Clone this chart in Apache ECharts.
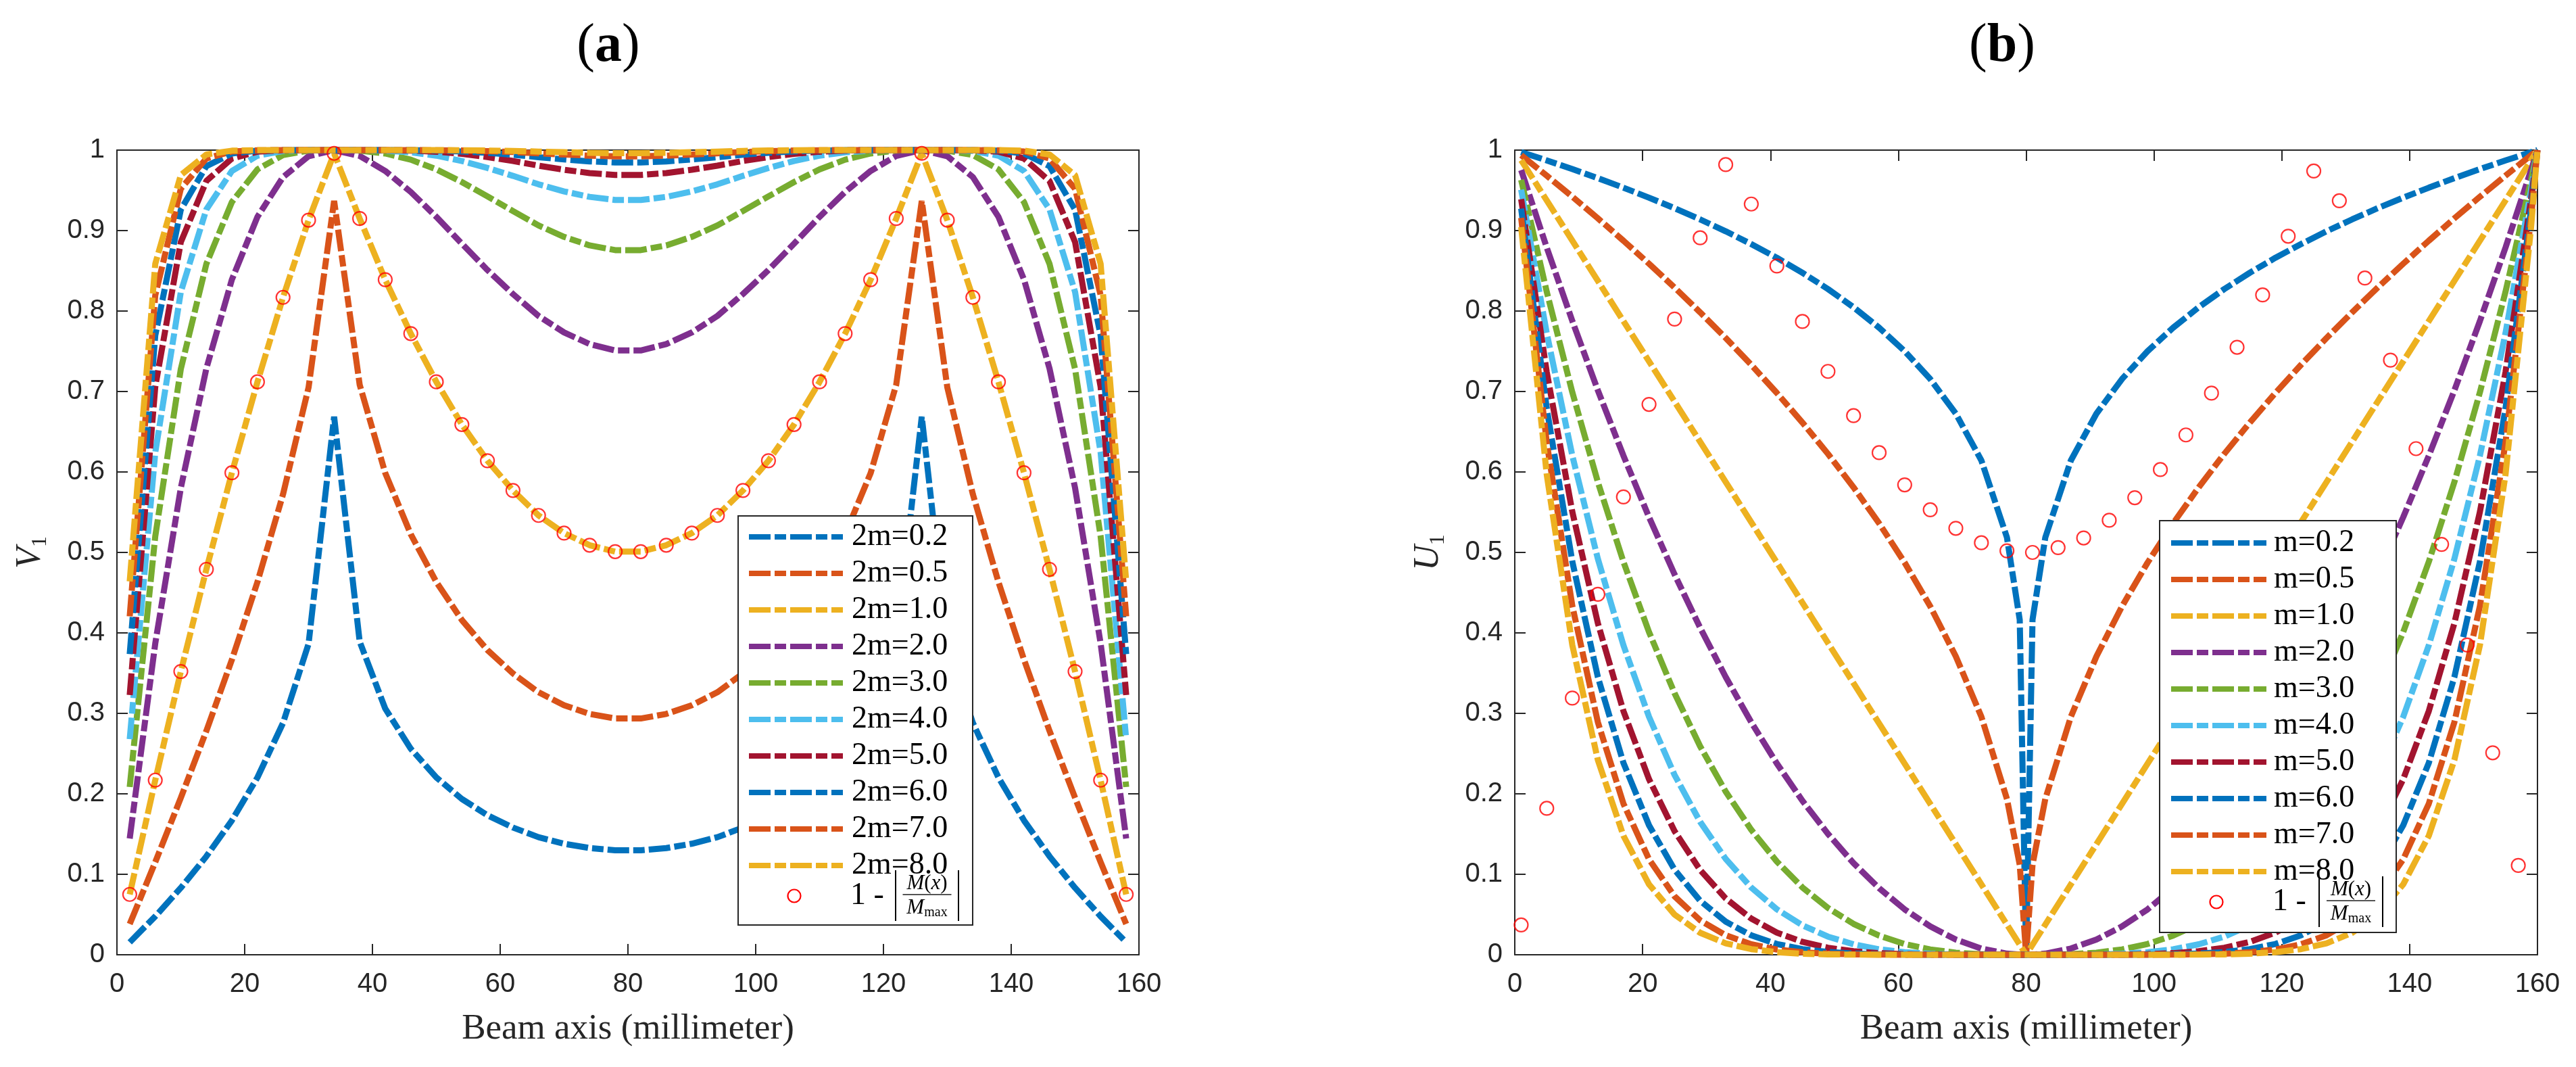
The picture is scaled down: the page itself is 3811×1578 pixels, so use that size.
<!DOCTYPE html>
<html>
<head>
<meta charset="utf-8">
<title>V1 and U1 along the beam axis</title>
<script src="https://cdn.jsdelivr.net/npm/echarts@6/dist/echarts.min.js"></script>
<style>
  html, body { margin: 0; padding: 0; background: #fff; }
  #chart { width: 3811px; height: 1578px; }
</style>
</head>
<body>
<div id="chart"></div>
<script>
/*
* data -- panel (a), V1 for 2m = 0.2 ... 8.0
* */
var xA = [2, 6, 10, 14, 18, 22, 26, 30, 34, 38, 42, 46, 50, 54, 58, 62, 66, 70, 74, 78,
    82, 86, 90, 94, 98, 102, 106, 110, 114, 118, 122, 126, 130, 134, 138, 142, 146, 150, 154, 158];
var namesA = ['2m=0.2', '2m=0.5', '2m=1.0', '2m=2.0', '2m=3.0', '2m=4.0', '2m=5.0', '2m=6.0', '2m=7.0', '2m=8.0'];

var vA02 = [0.0155, 0.0477, 0.0831, 0.1223, 0.1670, 0.2204, 0.2880, 0.3864, 0.6686, 0.3892, 0.3060, 0.2560, 0.2204, 0.1936, 0.1734, 0.1581, 0.1461, 0.1380, 0.1326, 0.1298,
    0.1298, 0.1326, 0.1380, 0.1461, 0.1581, 0.1734, 0.1936, 0.2204, 0.2560, 0.3060, 0.3892, 0.6686, 0.3864, 0.2880, 0.2204, 0.1670, 0.1223, 0.0831, 0.0477, 0.0155];
var vA05 = [0.0382, 0.1151, 0.1950, 0.2782, 0.3668, 0.4633, 0.5722, 0.7050, 0.9368, 0.7085, 0.5988, 0.5225, 0.4633, 0.4160, 0.3787, 0.3496, 0.3262, 0.3101, 0.2993, 0.2936,
    0.2936, 0.2993, 0.3101, 0.3262, 0.3496, 0.3787, 0.4160, 0.4633, 0.5225, 0.5988, 0.7085, 0.9368, 0.7050, 0.5722, 0.4633, 0.3668, 0.2782, 0.1950, 0.1151, 0.0382];
var vA10 = [0.075, 0.217, 0.352, 0.479, 0.599, 0.712, 0.817, 0.913, 0.996, 0.915, 0.839, 0.772, 0.712, 0.659, 0.614, 0.577, 0.546, 0.524, 0.509, 0.501,
    0.501, 0.509, 0.524, 0.546, 0.577, 0.614, 0.659, 0.712, 0.772, 0.839, 0.915, 0.996, 0.913, 0.817, 0.712, 0.599, 0.479, 0.352, 0.217, 0.075];
var vA20 = [0.1444, 0.3869, 0.5801, 0.7286, 0.8392, 0.9171, 0.9665, 0.9924, 1.0000, 0.9928, 0.9741, 0.9480, 0.9171, 0.8837, 0.8510, 0.8211, 0.7939, 0.7734, 0.7589, 0.7510,
    0.7510, 0.7589, 0.7734, 0.7939, 0.8211, 0.8510, 0.8837, 0.9171, 0.9480, 0.9741, 0.9928, 1.0000, 0.9924, 0.9665, 0.9171, 0.8392, 0.7286, 0.5801, 0.3869, 0.1444];
var vA30 = [0.2085, 0.5200, 0.7279, 0.8586, 0.9355, 0.9761, 0.9939, 0.9993, 1.0000, 0.9994, 0.9958, 0.9881, 0.9761, 0.9603, 0.9425, 0.9243, 0.9064, 0.8922, 0.8816, 0.8757,
    0.8757, 0.8816, 0.8922, 0.9064, 0.9243, 0.9425, 0.9603, 0.9761, 0.9881, 0.9958, 0.9994, 1.0000, 0.9993, 0.9939, 0.9761, 0.9355, 0.8586, 0.7279, 0.5200, 0.2085];
var vA40 = [0.2679, 0.6241, 0.8237, 0.9263, 0.9741, 0.9931, 0.9989, 0.9999, 1.0000, 0.9999, 0.9993, 0.9973, 0.9931, 0.9865, 0.9778, 0.9680, 0.9575, 0.9487, 0.9419, 0.9380,
    0.9380, 0.9419, 0.9487, 0.9575, 0.9680, 0.9778, 0.9865, 0.9931, 0.9973, 0.9993, 0.9999, 1.0000, 0.9999, 0.9989, 0.9931, 0.9741, 0.9263, 0.8237, 0.6241, 0.2679];
var vA50 = [0.3228, 0.7057, 0.8857, 0.9616, 0.9896, 0.9980, 0.9998, 1.0000, 1.0000, 1.0000, 0.9999, 0.9994, 0.9980, 0.9954, 0.9914, 0.9865, 0.9807, 0.9756, 0.9715, 0.9691,
    0.9691, 0.9715, 0.9756, 0.9807, 0.9865, 0.9914, 0.9954, 0.9980, 0.9994, 0.9999, 1.0000, 1.0000, 1.0000, 0.9998, 0.9980, 0.9896, 0.9616, 0.8857, 0.7057, 0.3228];
var vA60 = [0.3736, 0.7696, 0.9260, 0.9800, 0.9958, 0.9994, 1.0000, 1.0000, 1.0000, 1.0000, 1.0000, 0.9999, 0.9994, 0.9984, 0.9967, 0.9943, 0.9912, 0.9884, 0.9860, 0.9846,
    0.9846, 0.9860, 0.9884, 0.9912, 0.9943, 0.9967, 0.9984, 0.9994, 0.9999, 1.0000, 1.0000, 1.0000, 1.0000, 1.0000, 0.9994, 0.9958, 0.9800, 0.9260, 0.7696, 0.3736];
var vA70 = [0.4206, 0.8196, 0.9520, 0.9896, 0.9983, 0.9998, 1.0000, 1.0000, 1.0000, 1.0000, 1.0000, 1.0000, 0.9998, 0.9995, 0.9987, 0.9976, 0.9960, 0.9945, 0.9931, 0.9923,
    0.9923, 0.9931, 0.9945, 0.9960, 0.9976, 0.9987, 0.9995, 0.9998, 1.0000, 1.0000, 1.0000, 1.0000, 1.0000, 1.0000, 0.9998, 0.9983, 0.9896, 0.9520, 0.8196, 0.4206];
var vA80 = [0.4640, 0.8587, 0.9689, 0.9946, 0.9993, 1.0000, 1.0000, 1.0000, 1.0000, 1.0000, 1.0000, 1.0000, 1.0000, 0.9998, 0.9995, 0.9990, 0.9982, 0.9974, 0.9966, 0.9962,
    0.9962, 0.9966, 0.9974, 0.9982, 0.9990, 0.9995, 0.9998, 1.0000, 1.0000, 1.0000, 1.0000, 1.0000, 1.0000, 1.0000, 1.0000, 0.9993, 0.9946, 0.9689, 0.8587, 0.4640];
// 1 - |M(x)/Mmax|, circles of panel (a)
var cA = [0.075, 0.217, 0.352, 0.479, 0.599, 0.712, 0.817, 0.913, 0.996, 0.915, 0.839, 0.772, 0.712, 0.659, 0.614, 0.577, 0.546, 0.524, 0.509, 0.501,
    0.501, 0.509, 0.524, 0.546, 0.577, 0.614, 0.659, 0.712, 0.772, 0.839, 0.915, 0.996, 0.913, 0.817, 0.712, 0.599, 0.479, 0.352, 0.217, 0.075];

/*
* data -- panel (b), U1 for m = 0.2 ... 8.0
* */
var xB = [1, 5, 9, 13, 17, 21, 25, 29, 33, 37, 41, 45, 49, 53, 57, 61, 65, 69, 73, 77, 79, 80,
    81, 83, 87, 91, 95, 99, 103, 107, 111, 115, 119, 123, 127, 131, 135, 139, 143, 147, 151, 155, 159, 160];
var namesB = ['m=0.2', 'm=0.5', 'm=1.0', 'm=2.0', 'm=3.0', 'm=4.0', 'm=5.0', 'm=6.0', 'm=7.0', 'm=8.0'];

var uB02 = [0.9975, 0.9872, 0.9764, 0.9652, 0.9533, 0.9409, 0.9278, 0.9139, 0.8991, 0.8832, 0.8662, 0.8476, 0.8273, 0.8047, 0.7793, 0.7501, 0.7155, 0.6725, 0.6143, 0.5186, 0.4163, 0,
    0.4163, 0.5186, 0.6143, 0.6725, 0.7155, 0.7501, 0.7793, 0.8047, 0.8273, 0.8476, 0.8662, 0.8832, 0.8991, 0.9139, 0.9278, 0.9409, 0.9533, 0.9652, 0.9764, 0.9872, 0.9975, 1];
var uB05 = [0.9937, 0.9682, 0.9421, 0.9152, 0.8874, 0.8588, 0.8292, 0.7984, 0.7665, 0.7331, 0.6982, 0.6614, 0.6225, 0.5809, 0.5362, 0.4873, 0.4330, 0.3708, 0.2958, 0.1936, 0.1118, 0,
    0.1118, 0.1936, 0.2958, 0.3708, 0.4330, 0.4873, 0.5362, 0.5809, 0.6225, 0.6614, 0.6982, 0.7331, 0.7665, 0.7984, 0.8292, 0.8588, 0.8874, 0.9152, 0.9421, 0.9682, 0.9937, 1];
var uB10 = [0.9875, 0.9375, 0.8875, 0.8375, 0.7875, 0.7375, 0.6875, 0.6375, 0.5875, 0.5375, 0.4875, 0.4375, 0.3875, 0.3375, 0.2875, 0.2375, 0.1875, 0.1375, 0.0875, 0.0375, 0.0125, 0,
    0.0125, 0.0375, 0.0875, 0.1375, 0.1875, 0.2375, 0.2875, 0.3375, 0.3875, 0.4375, 0.4875, 0.5375, 0.5875, 0.6375, 0.6875, 0.7375, 0.7875, 0.8375, 0.8875, 0.9375, 0.9875, 1];
var uB20 = [0.9752, 0.8789, 0.7877, 0.7014, 0.6202, 0.5439, 0.4727, 0.4064, 0.3452, 0.2889, 0.2377, 0.1914, 0.1502, 0.1139, 0.0827, 0.0564, 0.0352, 0.0189, 0.0077, 0.0014, 0.0002, 0,
    0.0002, 0.0014, 0.0077, 0.0189, 0.0352, 0.0564, 0.0827, 0.1139, 0.1502, 0.1914, 0.2377, 0.2889, 0.3452, 0.4064, 0.4727, 0.5439, 0.6202, 0.7014, 0.7877, 0.8789, 0.9752, 1];
var uB30 = [0.9630, 0.8240, 0.6991, 0.5874, 0.4884, 0.4011, 0.3250, 0.2591, 0.2028, 0.1553, 0.1159, 0.0837, 0.0582, 0.0384, 0.0238, 0.0134, 0.0066, 0.0026, 0.0007, 0.0001, 0, 0,
    0, 0.0001, 0.0007, 0.0026, 0.0066, 0.0134, 0.0238, 0.0384, 0.0582, 0.0837, 0.1159, 0.1553, 0.2028, 0.2591, 0.3250, 0.4011, 0.4884, 0.5874, 0.6991, 0.8240, 0.9630, 1];
var uB40 = [0.9509, 0.7725, 0.6204, 0.4920, 0.3846, 0.2958, 0.2234, 0.1652, 0.1191, 0.0835, 0.0565, 0.0366, 0.0225, 0.0130, 0.0068, 0.0032, 0.0012, 0.0004, 0.0001, 0, 0, 0,
    0, 0, 0.0001, 0.0004, 0.0012, 0.0032, 0.0068, 0.0130, 0.0225, 0.0366, 0.0565, 0.0835, 0.1191, 0.1652, 0.2234, 0.2958, 0.3846, 0.4920, 0.6204, 0.7725, 0.9509, 1];
var uB50 = [0.9391, 0.7242, 0.5506, 0.4120, 0.3029, 0.2182, 0.1536, 0.1053, 0.0700, 0.0449, 0.0275, 0.0160, 0.0087, 0.0044, 0.0020, 0.0008, 0.0002, 0.0001, 0, 0, 0, 0,
    0, 0, 0, 0.0001, 0.0002, 0.0008, 0.0020, 0.0044, 0.0087, 0.0160, 0.0275, 0.0449, 0.0700, 0.1053, 0.1536, 0.2182, 0.3029, 0.4120, 0.5506, 0.7242, 0.9391, 1];
var uB60 = [0.9273, 0.6789, 0.4887, 0.3451, 0.2385, 0.1609, 0.1056, 0.0671, 0.0411, 0.0241, 0.0134, 0.0070, 0.0034, 0.0015, 0.0006, 0.0002, 0, 0, 0, 0, 0, 0,
    0, 0, 0, 0, 0, 0.0002, 0.0006, 0.0015, 0.0034, 0.0070, 0.0134, 0.0241, 0.0411, 0.0671, 0.1056, 0.1609, 0.2385, 0.3451, 0.4887, 0.6789, 0.9273, 1];
var uB70 = [0.9157, 0.6365, 0.4337, 0.2890, 0.1878, 0.1187, 0.0726, 0.0428, 0.0242, 0.0130, 0.0065, 0.0031, 0.0013, 0.0005, 0.0002, 0, 0, 0, 0, 0, 0, 0,
    0, 0, 0, 0, 0, 0, 0.0002, 0.0005, 0.0013, 0.0031, 0.0065, 0.0130, 0.0242, 0.0428, 0.0726, 0.1187, 0.1878, 0.2890, 0.4337, 0.6365, 0.9157, 1];
var uB80 = [0.9043, 0.5967, 0.3849, 0.2420, 0.1479, 0.0875, 0.0499, 0.0273, 0.0142, 0.0070, 0.0032, 0.0013, 0.0005, 0.0002, 0, 0, 0, 0, 0, 0, 0, 0,
    0, 0, 0, 0, 0, 0, 0, 0.0002, 0.0005, 0.0013, 0.0032, 0.0070, 0.0142, 0.0273, 0.0499, 0.0875, 0.1479, 0.2420, 0.3849, 0.5967, 0.9043, 1];
// 1 - |M(x)/Mmax|, circles of panel (b)
var xBc = [1, 5, 9, 13, 17, 21, 25, 29, 33, 37, 41, 45, 49, 53, 57, 61, 65, 69, 73, 77,
    81, 85, 89, 93, 97, 101, 105, 109, 113, 117, 121, 125, 129, 133, 137, 141, 145, 149, 153, 157];
var cB = [0.037, 0.182, 0.319, 0.448, 0.569, 0.684, 0.790, 0.891, 0.982, 0.933, 0.856, 0.787, 0.725, 0.670, 0.624, 0.584, 0.553, 0.530, 0.512, 0.502,
    0.500, 0.506, 0.518, 0.540, 0.568, 0.603, 0.646, 0.698, 0.755, 0.820, 0.893, 0.974, 0.937, 0.841, 0.739, 0.629, 0.510, 0.385, 0.251, 0.111];

// MATLAB default order, it wraps after 7
var colors = ['#0072BD', '#D95319', '#EDB120', '#7E2F8E', '#77AC30', '#4DBEEE', '#A2142F', '#0072BD', '#D95319', '#EDB120'];
var dashDot = [32, 6, 17, 6];
var axisColor = '#262626';
var serif = '"Liberation Serif", "Times New Roman", serif';
var sans = '"Liberation Sans", Arial, sans-serif';

function pairs(xs, ys) {
    var out = [];
    for (var i = 0; i < xs.length; i++) {
        out.push([xs[i], ys[i]]);
    }
    return out;
}

function lineSeries(name, xs, ys, color, axisIdx) {
    return {
        name: name,
        type: 'line',
        xAxisIndex: axisIdx,
        yAxisIndex: axisIdx,
        data: pairs(xs, ys),
        symbol: 'none',
        showSymbol: false,
        clip: false,
        silent: true,
        lineStyle: {color: color, width: 9, type: dashDot, cap: 'butt'},
        itemStyle: {color: color}
    };
}

function circleSeries(xs, ys, axisIdx) {
    return {
        name: 'circles' + axisIdx,
        type: 'scatter',
        xAxisIndex: axisIdx,
        yAxisIndex: axisIdx,
        data: pairs(xs, ys),
        symbol: 'circle',
        symbolSize: 20,
        clip: false,
        silent: true,
        z: 3,
        itemStyle: {color: 'rgba(0,0,0,0)', borderColor: '#FF0000', borderWidth: 2.2}
    };
}

//----------------------------------------------------------------------------------------------------------------
// axes: box around each plot, ticks inside on all four sides
function xAxisOf(grid, pos, withLabels) {
    return {
        type: 'value', gridIndex: grid, position: pos,
        min: 0, max: 160, interval: 20,
        axisLine: {show: true, onZero: false, lineStyle: {color: axisColor, width: 2}},
        axisTick: {show: true, inside: true, length: 16, lineStyle: {color: axisColor, width: 2}},
        axisLabel: {show: withLabels, margin: 24, fontFamily: sans, fontSize: 40, color: axisColor},
        splitLine: {show: false},
        name: withLabels ? 'Beam axis (millimeter)' : '',
        nameLocation: 'middle',
        nameGap: 84,
        nameTextStyle: {fontFamily: serif, fontSize: 53, color: axisColor}
    };
}

function yAxisOf(grid, pos, withLabels, letter) {
    return {
        type: 'value', gridIndex: grid, position: pos,
        min: 0, max: 1, interval: 0.1,
        axisLine: {show: true, onZero: false, lineStyle: {color: axisColor, width: 2}},
        axisTick: {show: true, inside: true, length: 16, lineStyle: {color: axisColor, width: 2}},
        axisLabel: {show: withLabels, margin: 18, fontFamily: sans, fontSize: 40, color: axisColor},
        splitLine: {show: false},
        name: withLabels ? '{v|' + letter + '}{s|1}' : '',
        nameLocation: 'middle',
        nameGap: 97,
        nameRotate: 90,
        nameTextStyle: {
            rich: {
                v: {fontFamily: serif, fontStyle: 'italic', fontSize: 52, lineHeight: 62, color: axisColor},
                s: {fontFamily: serif, fontSize: 32, lineHeight: 32, verticalAlign: 'bottom', color: axisColor}
            }
        }
    };
}

function legendOf(names, left, top, itemWidth, textPad) {
    return {
        data: names,
        orient: 'vertical',
        left: left,
        top: top,
        padding: 0,
        itemWidth: itemWidth,
        itemHeight: 8,
        itemGap: 8,
        selectedMode: false,
        z: 10,
        lineStyle: {width: 8},
        itemStyle: {color: 'rgba(0,0,0,0)', borderWidth: 0},
        textStyle: {fontFamily: serif, fontSize: 46, lineHeight: 44, color: '#000', padding: [0, 0, 0, textPad]}
    };
}

/*
* legend frame and the last row "1 - |M(x)/Mmax|", drawn by hand
* */
function legendExtras(box, row) {
    var els = [];
    els.push({
        type: 'rect', z: 5,
        shape: {x: box.x, y: box.y, width: box.w, height: box.h},
        style: {fill: '#fff', stroke: axisColor, lineWidth: 2}
    });
    els.push({
        type: 'circle', z: 12,
        shape: {cx: row.ringX, cy: row.y, r: 9.5},
        style: {fill: 'none', stroke: '#FF0000', lineWidth: 2.2}
    });
    els.push({
        type: 'text', z: 12,
        style: {text: '1 -', x: row.textX, y: row.y, align: 'left', verticalAlign: 'middle',
            font: '46px ' + serif, fill: '#000'}
    });
    // absolute value bars
    els.push({type: 'line', z: 12, shape: {x1: row.barL, y1: row.y - 38, x2: row.barL, y2: row.y + 37},
        style: {stroke: '#000', lineWidth: 2}});
    els.push({type: 'line', z: 12, shape: {x1: row.barR, y1: row.y - 38, x2: row.barR, y2: row.y + 37},
        style: {stroke: '#000', lineWidth: 2}});
    var cx = (row.barL + row.barR) / 2;
    els.push({
        type: 'text', z: 12,
        style: {
            text: '{i|M}{n|(}{i|x}{n|)}', x: cx, y: row.y - 18, align: 'center', verticalAlign: 'middle',
            rich: {
                i: {fontFamily: serif, fontStyle: 'italic', fontSize: 31, fill: '#000'},
                n: {fontFamily: serif, fontSize: 31, fill: '#000'}
            }
        }
    });
    els.push({type: 'line', z: 12, shape: {x1: cx - 36, y1: row.y - 2, x2: cx + 36, y2: row.y - 2},
        style: {stroke: '#555', lineWidth: 2}});
    els.push({
        type: 'text', z: 12,
        style: {
            text: '{i|M}{s|max}', x: cx, y: row.y + 18, align: 'center', verticalAlign: 'middle',
            rich: {
                i: {fontFamily: serif, fontStyle: 'italic', fontSize: 31, lineHeight: 34, fill: '#000'},
                s: {fontFamily: serif, fontSize: 20, lineHeight: 20, verticalAlign: 'bottom', fill: '#000'}
            }
        }
    });
    return els;
}

function panelTitle(letter, x) {
    return {
        type: 'text', z: 12,
        style: {
            text: '{p|(}{b|' + letter + '}{p|)}', x: x, y: 69, align: 'center', verticalAlign: 'middle',
            rich: {
                p: {fontFamily: serif, fontSize: 80, fill: '#000'},
                b: {fontFamily: serif, fontSize: 80, fontWeight: 'bold', fill: '#000'}
            }
        }
    };
}

//----------------------------------------------------------------------------------------------------------------
var chart = echarts.init(document.getElementById('chart'), null, {renderer: 'canvas'});

var valuesA = [vA02, vA05, vA10, vA20, vA30, vA40, vA50, vA60, vA70, vA80];
var valuesB = [uB02, uB05, uB10, uB20, uB30, uB40, uB50, uB60, uB70, uB80];

var series = [];
for (var i = 0; i < namesA.length; i++) {
    series.push(lineSeries(namesA[i], xA, valuesA[i], colors[i], 0));
}
series.push(circleSeries(xA, cA, 0));
for (var j = 0; j < namesB.length; j++) {
    series.push(lineSeries(namesB[j], xB, valuesB[j], colors[j], 2));
}
series.push(circleSeries(xBc, cB, 2));
// the top/right axes need no series of their own

var graphics = [panelTitle('a', 900), panelTitle('b', 2962)]
    .concat(legendExtras({x: 1092, y: 763, w: 347, h: 605},
        {y: 1325, ringX: 1175, textX: 1258, barL: 1325, barR: 1418}))
    .concat(legendExtras({x: 3195, y: 770, w: 350, h: 609},
        {y: 1334, ringX: 3279, textX: 3362, barL: 3431, barR: 3525}));

var option = {
    animation: false,
    backgroundColor: '#fff',
    grid: [
        {left: 173, top: 222, width: 1512, height: 1190, outerBoundsMode: 'none'},
        {left: 2241, top: 222, width: 1513, height: 1190, outerBoundsMode: 'none'}
    ],
    xAxis: [
        xAxisOf(0, 'bottom', true), xAxisOf(0, 'top', false),
        xAxisOf(1, 'bottom', true), xAxisOf(1, 'top', false)
    ],
    yAxis: [
        yAxisOf(0, 'left', true, 'V'), yAxisOf(0, 'right', false, 'V'),
        yAxisOf(1, 'left', true, 'U'), yAxisOf(1, 'right', false, 'U')
    ],
    legend: [
        legendOf(namesA, 1104, 771, 139, 8),
        legendOf(namesB, 3208, 780, 141, 6)
    ],
    graphic: {elements: graphics},
    series: series
};

chart.setOption(option);
</script>
</body>
</html>
